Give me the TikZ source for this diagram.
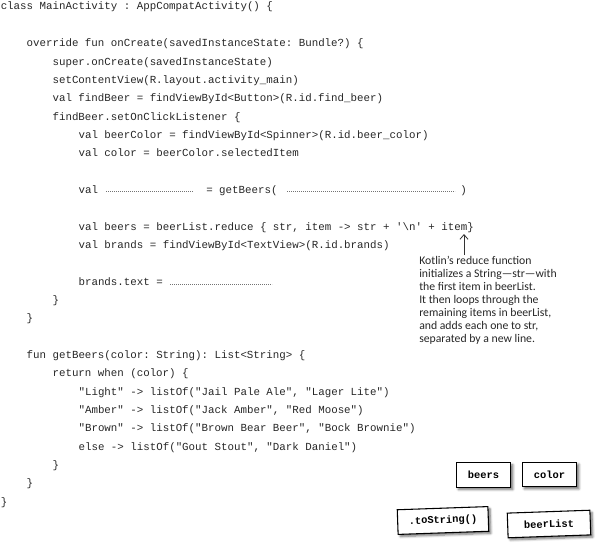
\documentclass[tikz,border=0pt]{standalone}
\usepackage{fontspec}
\setmonofont{Liberation Mono}
\newfontfamily\notefont{Carlito}
\usetikzlibrary{arrows.meta,shadows.blur}
\tikzset{
  code/.style={anchor=base west, inner sep=0pt, font=\ttfamily\fontsize{8.1pt}{9pt}\selectfont, text=black!85},
  blank/.style={draw=black!55, line width=0.5pt, dash pattern=on 0.9pt off 0.6pt},
  note/.style={anchor=north west, inner sep=0pt, align=left, text=black!85, font=\notefont\fontsize{8.8pt}{9.75pt}\selectfont},
  magnet/.style={draw=black, line width=0.8pt, fill=white, minimum height=18.5pt, inner sep=0pt,
    font=\ttfamily\bfseries\fontsize{7.8pt}{9pt}\selectfont,
    blur shadow={shadow xshift=1.6pt, shadow yshift=-1.6pt, shadow blur steps=6, shadow opacity=55}},
  pointer/.style={draw=black!80, line width=0.6pt, -{Straight Barb[length=3.5pt,width=6pt]}}
}
\begin{document}
\begin{tikzpicture}[x=0.75pt,y=-0.75pt]
\useasboundingbox (0,0) rectangle (600,546);
% indents: 0.5, 26.4, 52.3, 78.3 ; baseline of line i: 10 + 18.33 i
\node[code] (l0)  at (0.5,10)      {class MainActivity : AppCompatActivity() \{};
\node[code] (l2)  at (26.4,46.7) {override fun onCreate(savedInstanceState: Bundle?) \{};
\node[code] (l3)  at (52.3,65)   {super.onCreate(savedInstanceState)};
\node[code] (l4)  at (52.3,83.3) {setContentView(R.layout.activity\_main)};
\node[code] (l5)  at (52.3,101.7) {val findBeer = findViewById<Button>(R.id.find\_beer)};
\node[code] (l6)  at (52.3,120)  {findBeer.setOnClickListener \{};
\node[code] (l7)  at (78.3,138.3) {val beerColor = findViewById<Spinner>(R.id.beer\_color)};
\node[code] (l8)  at (78.3,156.7) {val color = beerColor.selectedItem};
\node[code] (l10a) at (78.3,193.3) {val};
\node[code] (l10b) at (206,193.3) {= getBeers(};
\node[code] (l10d) at (460,193.3) {)};
\draw[blank] (106,191.8) -- (193,191.8);
\draw[blank] (287,191.8) -- (455,191.8);
\node[code] (l12) at (78.3,230) {val beers = beerList.reduce \{ str, item -> str + '\textbackslash n' + item\}};
\node[code] (l13) at (78.3,248.3) {val brands = findViewById<TextView>(R.id.brands)};
\node[code] (l15) at (78.3,285) {brands.text =};
\draw[blank] (170,284.5) -- (272,284.5);
\node[code] (l16) at (52.3,303.3) {\}};
\node[code] (l17) at (26.4,321.7) {\}};
\node[code] (l19) at (26.4,358.3) {fun getBeers(color: String): List<String> \{};
\node[code] (l20) at (52.3,376.7) {return when (color) \{};
\node[code] (l21) at (78.3,395)  {"Light" -> listOf("Jail Pale Ale", "Lager Lite")};
\node[code] (l22) at (78.3,413.3) {"Amber" -> listOf("Jack Amber", "Red Moose")};
\node[code] (l23) at (78.3,431.7) {"Brown" -> listOf("Brown Bear Beer", "Bock Brownie")};
\node[code] (l24) at (78.3,450)  {else -> listOf("Gout Stout", "Dark Daniel")};
\node[code] (l25) at (52.3,468.3) {\}};
\node[code] (l26) at (26.4,486.7) {\}};
\node[code] (l27) at (0.5,505)     {\}};
% annotation
\node[note] (note) at (419,256) {Kotlin’s reduce function\\initializes a String—str—with\\the first item in beerList.\\It then loops through the\\remaining items in beerList,\\and adds each one to str,\\separated by a new line.};
\coordinate (itemtip) at (464,234);
\draw[pointer] (note.north west -| itemtip) ++(0,-1) -- (itemtip);
% magnets
\node[magnet, minimum width=41pt] (mbeers) at (483.5,475) {beers};
\node[magnet, minimum width=41pt] (mcolor) at (549.5,474.5) {color};
\node[magnet, minimum width=68pt, rotate=2] (mtostr) at (443,520.5) {.toString()};
\node[magnet, minimum width=62pt, rotate=2] (mlist) at (549,524) {beerList};
\end{tikzpicture}
\end{document}
